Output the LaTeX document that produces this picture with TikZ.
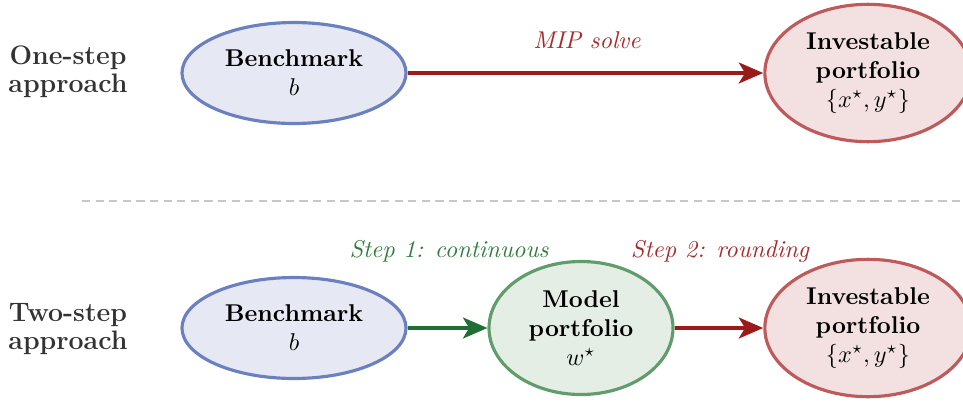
\documentclass[tikz,border=0pt]{standalone}
\usetikzlibrary{shapes.geometric,arrows.meta}
\definecolor{bluefill}{HTML}{E6E8F3}
\definecolor{blueline}{HTML}{6B80BF}
\definecolor{redfill}{HTML}{F3E1E1}
\definecolor{redline}{HTML}{BF5A5C}
\definecolor{greenfill}{HTML}{E4EEE5}
\definecolor{greenline}{HTML}{609C6C}
\definecolor{redarrow}{HTML}{9C1A1A}
\definecolor{greenarrow}{HTML}{1F6E32}
\definecolor{redtext}{HTML}{A8292B}
\definecolor{greentext}{HTML}{2F7D3C}
\definecolor{sidetext}{HTML}{333333}
\begin{document}
\begin{tikzpicture}[x=0.412pt,y=-0.412pt,
  blob/.style={ellipse,line width=1.3pt,align=center,inner sep=0pt,font=\normalsize},
  bench/.style={blob,draw=blueline,fill=bluefill,minimum width=92.3pt,minimum height=41.6pt},
  invest/.style={blob,draw=redline,fill=redfill,minimum width=85pt,minimum height=56.6pt},
  model/.style={blob,draw=greenline,fill=greenfill,minimum width=75.8pt,minimum height=54.8pt},
  flow/.style={line width=2pt,-{Stealth[length=10pt,width=8.5pt,inset=2.5pt]}},
  redflow/.style={flow,draw=redarrow,color=redarrow},
  greenflow/.style={flow,draw=greenarrow,color=greenarrow},
  sidelabel/.style={align=center,font=\fontsize{11}{11.6}\selectfont\bfseries,text=sidetext},
  steplabel/.style={font=\itshape}
]
\useasboundingbox (0,0) rectangle (963,403);

% one-step approach
\node[sidelabel] (one) at (68,72) {One-step\\approach};
\node[bench] (b1) at (294,73) {\textbf{Benchmark}\\$b$};
\node[invest] (i1) at (868,73) {\textbf{Investable}\\\textbf{portfolio}\\$\{x^\star,y^\star\}$};
\draw[redflow] (b1) -- (i1);
\node[steplabel,text=redtext] (mip) at (587,40) {MIP solve};

% separator
\coordinate (sepL) at (82,201);
\coordinate (sepR) at (963,201);
\draw[black!22,line width=0.6pt,dash pattern=on 3.4pt off 2.2pt] (sepL) -- (sepR);

% two-step approach
\node[sidelabel] (two) at (68,329) {Two-step\\approach};
\node[bench] (b2) at (294,328) {\textbf{Benchmark}\\$b$};
\node[model] (m2) at (581,328) {\textbf{Model}\\\textbf{portfolio}\\$w^\star$};
\node[invest] (i2) at (868,328) {\textbf{Investable}\\\textbf{portfolio}\\$\{x^\star,y^\star\}$};
\draw[greenflow] (b2) -- (m2);
\draw[redflow] (m2) -- (i2);
\node[steplabel,text=greentext] (s1) at (449,251) {Step 1: continuous};
\node[steplabel,text=redtext] (s2) at (720,251) {Step 2: rounding};
\end{tikzpicture}
\end{document}
